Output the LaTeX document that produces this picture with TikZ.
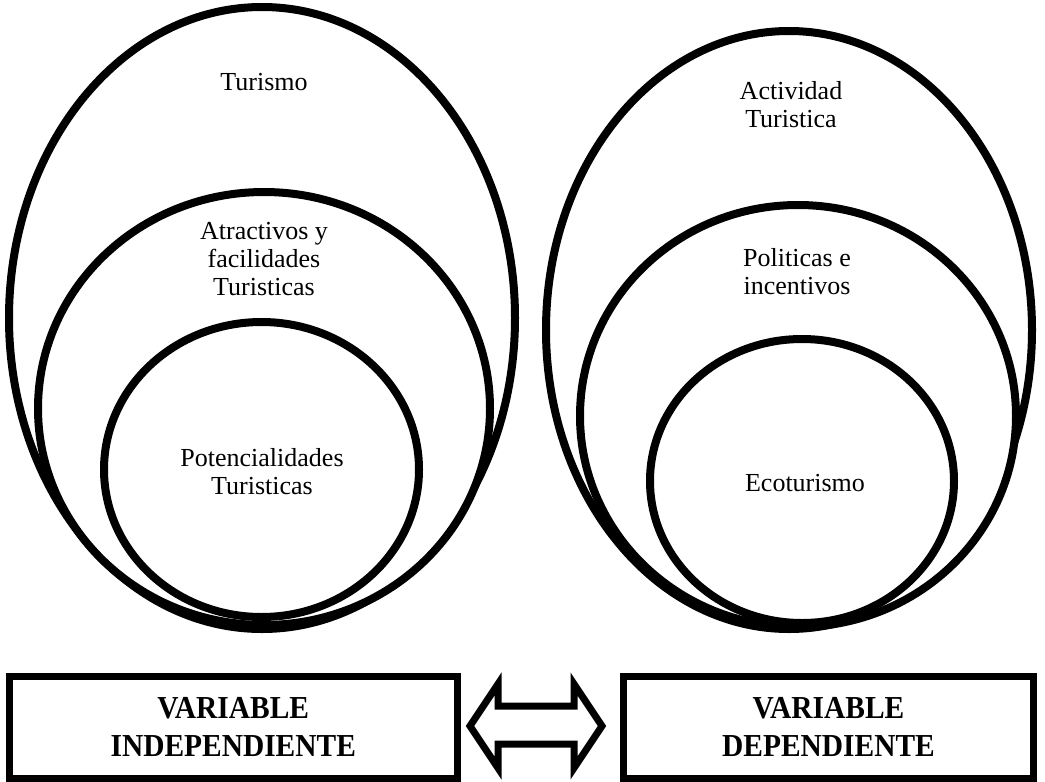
\documentclass[tikz,border=0pt]{standalone}
\usepackage{fontspec}
\setmainfont{Liberation Serif}
\newfontfamily\boxfont[FakeStretch=0.92]{Liberation Serif}
\usetikzlibrary{shapes.geometric}
\begin{document}
\begin{tikzpicture}[x=1pt,y=-1pt,
  ring/.style={draw=black, line width=8pt, ellipse, inner sep=0pt, fill=white},
  lbl/.style={inner sep=0pt, align=center, font=\fontsize{26}{28}\selectfont},
  varbox/.style={draw=black, line width=7pt, rectangle, inner sep=0pt, align=center, fill=white,
                 font=\boxfont\bfseries\fontsize{32}{38}\selectfont},
  blockarrow/.style={draw=black, line width=7pt, fill=white, line join=miter}
]
\useasboundingbox (0,0) rectangle (1045,782);
% left group
\node[ring, minimum width=506pt, minimum height=622pt] (outerL) at (262,318) {};
\node[ring, minimum width=452pt, minimum height=433pt] (midL) at (264,408.5) {};
\node[ring, minimum width=315pt, minimum height=295pt] (innerL) at (261.5,469.5) {};
% right group
\node[ring, minimum width=486pt, minimum height=598pt] (outerR) at (789,330) {};
\node[ring, minimum width=436pt, minimum height=422pt] (midR) at (798,416) {};
\node[ring, minimum width=304pt, minimum height=284pt] (innerR) at (802,481) {};
% labels
\node[lbl, anchor=north] (tTurismo) at (264,73.5) {Turismo};
\node[lbl, anchor=north] (tAtract) at (264,222.2) {Atractivos y\\facilidades\\Turisticas};
\node[lbl, anchor=north] (tPotenc) at (262,447.8) {Potencialidades\\Turisticas};
\node[lbl, anchor=north] (tActiv) at (791,81.6) {Actividad\\Turistica};
\node[lbl, anchor=north] (tPolit) at (797,248.2) {Politicas e\\incentivos};
\node[lbl, anchor=base] (tEco) at (805,491.5) {Ecoturismo};
% boxes
\node[varbox, minimum width=447.5pt, minimum height=102.5pt] (indep) at (233.25,727.25) {VARIABLE\\INDEPENDIENTE};
\node[varbox, minimum width=410pt, minimum height=102.5pt] (dep) at (828.5,727.25) {VARIABLE\\DEPENDIENTE};
% double block arrow
\draw[blockarrow] (470,726) -- (498,684) -- (498,706) -- (574,706) -- (574,684) -- (602,726)
  -- (574,768) -- (574,744) -- (498,744) -- (498,768) -- cycle;
\end{tikzpicture}
\end{document}
